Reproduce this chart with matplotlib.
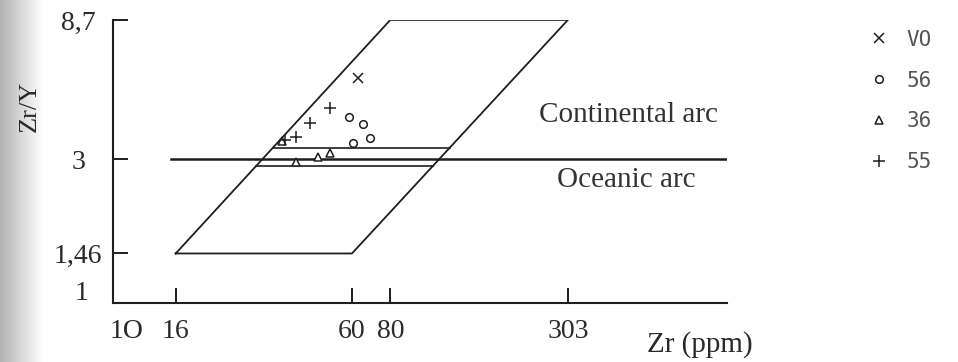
import numpy as np
import matplotlib.pyplot as plt

plt.rcParams["font.family"] = ["Liberation Serif", "DejaVu Serif"]

INK = "#1e1e1e"

# sample points (Zr ppm, Zr/Y)
vo_zr = [63.0]
vo_ratio = [5.6]
s56_zr = [58.5, 65.0, 68.5, 60.3]
s56_ratio = [4.14, 3.92, 3.52, 3.40]
s36_zr = [35.6, 39.5, 46.6, 50.8]
s36_ratio = [3.44, 2.94, 3.05, 3.15]
s55_zr = [50.8, 43.9, 39.3, 36.3]
s55_ratio = [4.44, 3.96, 3.55, 3.48]

# field outline: corners of the arc field
field_zr = [16, 60, 303, 80, 16]
field_ratio = [1.46, 1.46, 8.7, 8.7, 1.46]
divide_ratio = 3.0
divide_zr = [15.5, 1000]
band_ratio = [3.27, 2.85]

x_ticks = [16, 60, 80, 303]
y_ticks = [1.46, 3, 8.7]
y_tick_labels = ["1,46", "3", "8,7"]


def edge_zr(ratio, lo, hi):
    # zr on a field edge (straight in log-log) at the given ratio
    t = (np.log10(ratio) - np.log10(1.46)) / (np.log10(8.7) - np.log10(1.46))
    return 10 ** (np.log10(lo) + t * (np.log10(hi) - np.log10(lo)))


fig = plt.figure(figsize=(9.58, 3.62), dpi=100)

# grey scan margin on the left
shade = fig.add_axes([0, 0, 0.045, 1])
grad = np.linspace(0.7, 1.0, 60)[None, :]
shade.imshow(grad, cmap="gray", vmin=0, vmax=1, aspect="auto")
shade.axis("off")

ax = fig.add_axes([0.118, 0.163, 0.641, 0.782])
ax.set_xscale("log")
ax.set_yscale("log")
ax.set_xlim(10, 1000)
ax.set_ylim(1, 8.7)

ax.plot(field_zr, field_ratio, color=INK, lw=1.3)
ax.plot(divide_zr, [divide_ratio] * 2, color=INK, lw=1.8)
for r in band_ratio:
    ax.plot([edge_zr(r, 16, 80), edge_zr(r, 60, 303)], [r, r], color=INK, lw=1.2)

mk = dict(linestyle="none", color=INK, markerfacecolor="white", markeredgewidth=1.1)
ax.plot(vo_zr, vo_ratio, marker="x", markersize=6.5, label="VO", **mk)
ax.plot(s56_zr, s56_ratio, marker="o", markersize=5.5, label="56", **mk)
ax.plot(s36_zr, s36_ratio, marker="^", markersize=6, label="36", **mk)
ax.plot(s55_zr, s55_ratio, marker="+", markersize=8, label="55", **mk)

ax.text(476, 4.21, "Continental arc", fontsize=21, color="#333333", ha="center", va="center")
ax.text(470, 2.56, "Oceanic arc", fontsize=21, color="#333333", ha="center", va="center")

for side in ["top", "right"]:
    ax.spines[side].set_visible(False)
for side in ["left", "bottom"]:
    ax.spines[side].set_linewidth(1.5)
    ax.spines[side].set_color(INK)

ax.minorticks_off()
ax.set_xticks(x_ticks, [str(v) for v in x_ticks])
ax.set_yticks(y_ticks, y_tick_labels)
ax.tick_params(axis="both", direction="in", length=11, width=1.4, color=INK,
               labelsize=20, labelcolor="#2a2a2a")
ax.tick_params(axis="x", pad=11.5)
ax.tick_params(axis="y", pad=25)
for lab in ax.get_yticklabels():
    lab.set_horizontalalignment("center")

# labels at the origin, set slightly off the corner
ax.annotate("1", xy=(0, 1), xycoords=ax.get_yaxis_transform(), xytext=(-23, 9),
            textcoords="offset points", ha="center", va="center_baseline",
            fontsize=20, color="#2a2a2a")
ax.annotate("1O", xy=(10, 0), xycoords=ax.get_xaxis_transform(), xytext=(9.5, -11.5),
            textcoords="offset points", ha="center", va="top",
            fontsize=20, color="#2a2a2a")

ax.set_xlabel("Zr (ppm)", fontsize=21, color="#2a2a2a")
ax.xaxis.set_label_coords(0.956, -0.1)
ax.set_ylabel("Zr/Y", fontsize=19, color="#2a2a2a")
ax.yaxis.set_label_coords(-0.118, 0.696)

fig.legend(loc="upper left", bbox_to_anchor=(0.907, 0.918), frameon=False,
           prop={"family": "DejaVu Sans Mono", "size": 15}, labelcolor="#555555",
           handlelength=1.0, handletextpad=0.8, labelspacing=1.0,
           borderpad=0, borderaxespad=0)

fig.savefig("out.png", dpi=100)
